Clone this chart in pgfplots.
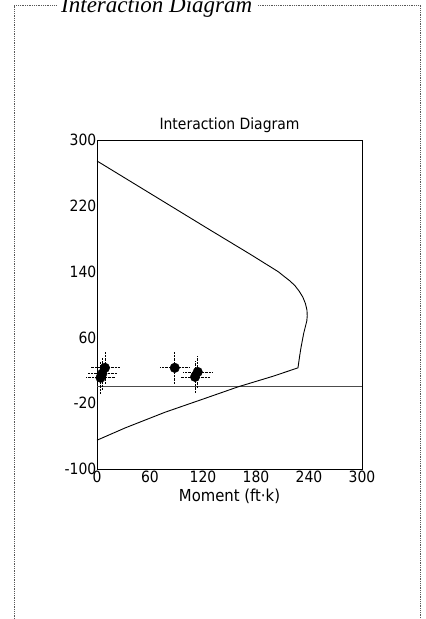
\documentclass[border=0pt]{standalone}
\usepackage{pgfplots}
\pgfplotsset{compat=1.18}
\usepackage{fontspec}
\setmainfont{DejaVu Sans}
\newfontfamily\cond{DejaVu Sans Condensed}
\newfontfamily\titleserif{Liberation Serif}
\begin{document}
\begin{tikzpicture}[x=1bp,y=1bp]
\useasboundingbox (0,0) rectangle (425,619);
% outer dotted frame
\draw[gray!70!black, densely dotted, line width=0.8bp] (14,0) -- (14,614) -- (57,614);
\draw[gray!70!black, densely dotted, line width=0.8bp] (258,614) -- (420,614) -- (420,0);
\node[anchor=base west, inner sep=0pt] at (61,606) {\titleserif\itshape\fontsize{23bp}{26bp}\selectfont Interaction Diagram};
\begin{axis}[
  at={(97bp,150bp)}, anchor=south west,
  width=265bp, height=329bp, scale only axis,
  xmin=0, xmax=300, ymin=-100, ymax=300,
  xtick={0,60,120,180,240,300},
  ytick={-100,-20,60,140,220,300},
  major tick length=0pt,
  axis line style={black, line width=0.9bp},
  /pgf/number format/assume math mode=true,
  tick label style={font=\cond\fontsize{15.5bp}{18bp}\selectfont},
  yticklabel style={inner sep=0.5bp},
  xticklabel style={inner sep=1.5bp},
  xlabel={Moment (ft·k)},
  xlabel style={font=\cond\fontsize{16.5bp}{19bp}\selectfont, at={(axis description cs:0.5,0)}, anchor=north, yshift=-20bp, inner sep=0pt},
  title={Interaction Diagram},
  title style={font=\cond\fontsize{15.5bp}{18bp}\selectfont, at={(axis description cs:0.5,1)}, anchor=base, yshift=5bp, inner sep=0pt},
  clip=false,
]
% zero line
\addplot[gray!60!black, line width=1.5bp, mark=none] coordinates {(0,0) (300,0)};
% interaction curve
\addplot[black, line width=0.9bp, mark=none] coordinates {
(0,274.5) (128,190.6) (173,161.4) (205,140) (212,134) (218,129) (224,123) (229,116)
(233,109) (236,101) (237.7,93) (238,86) (237.5,80) (234,65) (231,48) (229.5,38) (227.5,23)
(200,13) (160,0) (120,-15) (77,-31) (32,-50) (0,-65)};
% load points
\addplot[only marks, mark=*, mark size=4.8bp, black,
  error bars/.cd, x dir=both, x fixed=17, y dir=both, y fixed=19,
  error mark=none, error bar style={densely dotted, line width=0.7bp, black}]
  coordinates {(9,23) (6,16) (4,11) (88,23) (114,18) (111,12)};
\end{axis}
\end{tikzpicture}
\end{document}
